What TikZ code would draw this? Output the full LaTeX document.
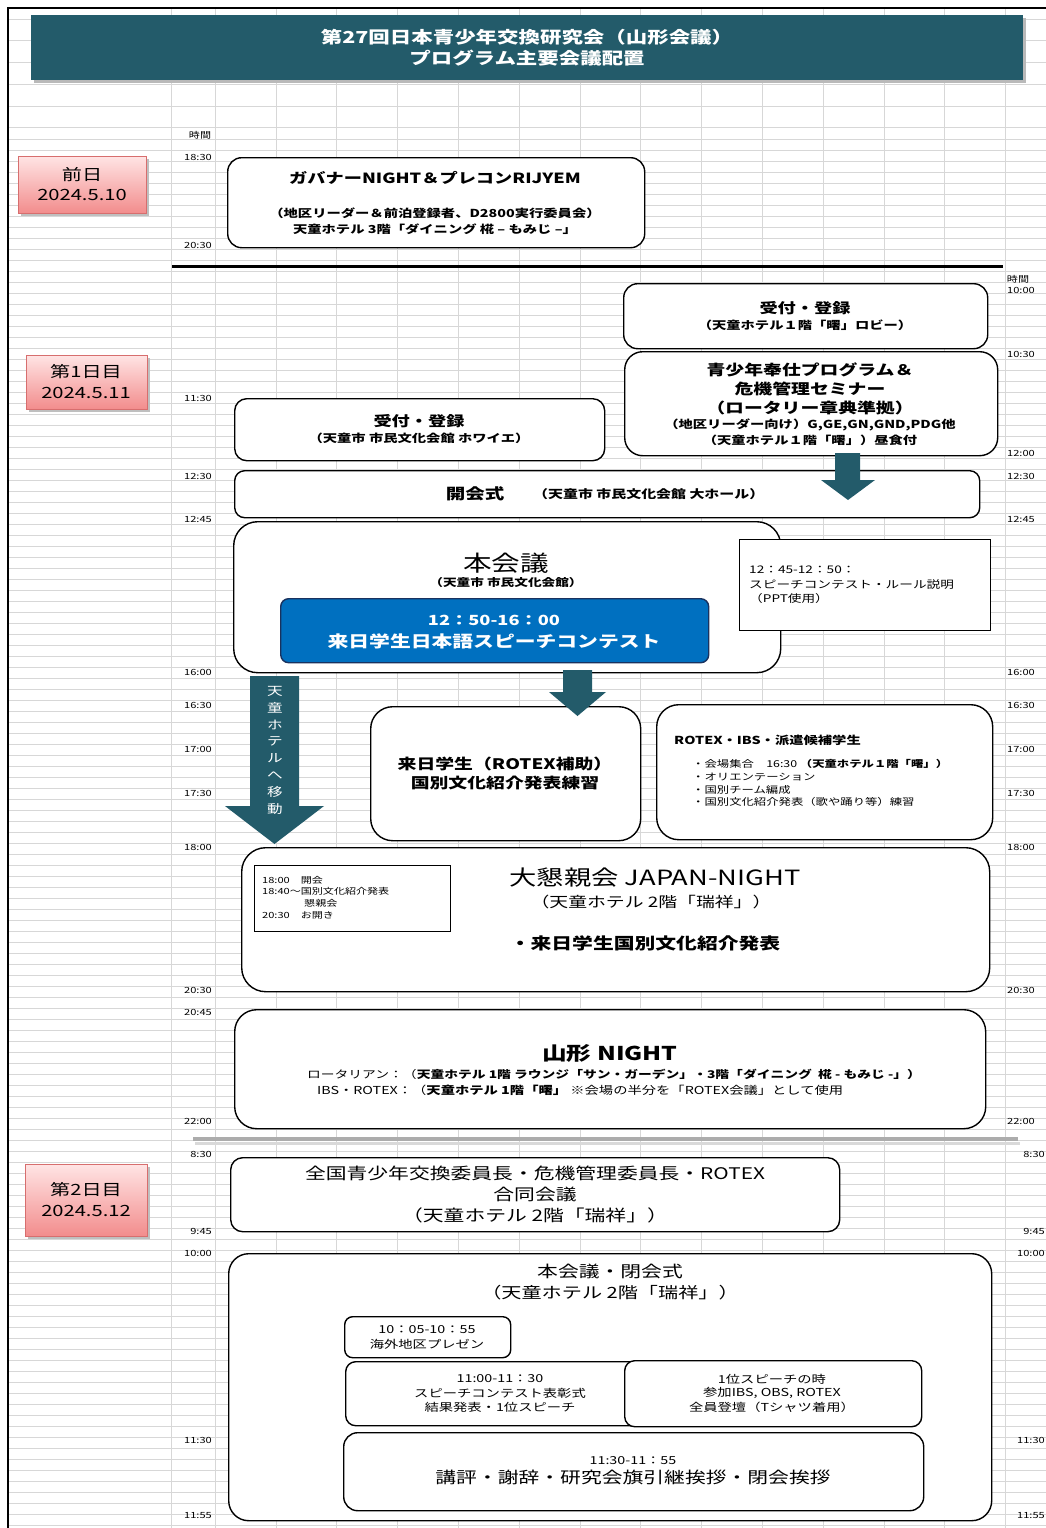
\documentclass[tikz,border=0pt]{standalone}
\usepackage{fontspec}
\setmainfont{Noto Sans CJK JP}[FakeStretch=1.3]
\newfontfamily\nsf{Noto Sans CJK JP}
\definecolor{tealc}{RGB}{35,91,106}
\definecolor{cblue}{RGB}{0,112,192}
\definecolor{cbluedark}{RGB}{25,50,95}
\definecolor{pinkt}{RGB}{255,228,228}
\definecolor{pinkb}{RGB}{242,140,140}
\definecolor{pinkd}{RGB}{215,110,110}
\definecolor{gridc}{RGB}{215,215,215}
\newcommand\fs[1]{\fontsize{#1}{#1}\selectfont}
\begin{document}
\begin{tikzpicture}[x=1pt,y=-1pt,
  box/.style={draw=black, line width=1.4pt, fill=white, inner sep=0pt, anchor=north west},
  daybox/.style={draw=pinkd, line width=0.8pt, top color=pinkt, bottom color=pinkb, inner sep=0pt, anchor=north west},
  t/.style={inner sep=0pt, text=black},
  tl/.style={inner sep=0pt, font=\fs{8.5}},
  gridl/.style={draw=gridc, line width=0.6pt},
  blockarrow/.style={fill=tealc, draw=none}]
\useasboundingbox (0,0) rectangle (1046,1528);
\fill[white] (0,0) rectangle (1046,1528);
% grid
\foreach \y in {19,40.7,62.4,84.1,105.8,127.5} \draw[gridl] (8,\y) -- (1046,\y);
\foreach \y in {139,150,...,1528} \draw[gridl] (8,\y) -- (1046,\y);
\foreach \x in {171,215,275.8,336.6,397.4,458.2,519,579.8,640.6,701.4,762.2,823,883.8,944.6,1005.4} \draw[gridl] (\x,8) -- (\x,1528);
% borders
\draw[black, line width=2pt] (8,1528) -- (8,8) -- (1046,8);
% title banner
\fill[gray!55] (34,18) rectangle (1026,83);
\node[fill=tealc, inner sep=0pt, anchor=north west, minimum width=992pt, minimum height=65pt] (banner) at (31,15) {};
\node[t, text=white, font=\fs{16.5}\bfseries] (title1) at (527,37) {第27回日本青少年交換研究会（山形会議）};
\node[t, text=white, font=\fs{16.5}\bfseries] (title2) at (527,58) {プログラム主要会議配置};
% time headers
\node[tl] (jikan1) at (200,135) {時間};
\node[tl] (jikan2) at (1018,279) {時間};
\foreach \y/\tm [count=\i] in {157/18:30, 245/20:30, 398/11:30, 476/12:30, 519/12:45, 672/16:00, 705/16:30, 749/17:00, 793/17:30, 847/18:00, 990/20:30, 1012/20:45, 1121/22:00, 1154/8:30, 1231/9:45, 1253/10:00, 1440/11:30, 1516/11:55}
  \node[tl, anchor=east] (lt\i) at (212,\y) {\tm};
\foreach \y/\tm [count=\i] in {290/10:00, 354/10:30, 453/12:00, 476/12:30, 519/12:45, 672/16:00, 705/16:30, 749/17:00, 793/17:30, 847/18:00, 990/20:30, 1121/22:00}
  \node[tl, anchor=west] (rt\i) at (1007,\y) {\tm};
\foreach \y/\tm [count=\i] in {1154/8:30, 1231/9:45, 1253/10:00, 1440/11:30, 1516/11:55}
  \node[tl, anchor=east] (rs\i) at (1045,\y) {\tm};
% day boxes
\fill[gray!50] (21,159) rectangle (149,216);
\node[daybox, minimum width=128pt, minimum height=57pt] (day0) at (18,156) {};
\node[t, font=\fs{15.5}] (day0a) at (82,175) {前日};
\node[t, font=\fs{15.5}] (day0b) at (82,195) {2024.5.10};
\fill[gray!50] (29,358) rectangle (150,412);
\node[daybox, minimum width=121pt, minimum height=54pt] (day1) at (26,355) {};
\node[t, font=\fs{15.5}] (day1a) at (86,372) {第1日目};
\node[t, font=\fs{15.5}] (day1b) at (86,393) {2024.5.11};
\fill[gray!50] (28,1167) rectangle (150,1239);
\node[daybox, minimum width=122pt, minimum height=72pt] (day2) at (25,1164) {};
\node[t, font=\fs{15.5}] (day2a) at (86,1190) {第2日目};
\node[t, font=\fs{15.5}] (day2b) at (86,1211) {2024.5.12};
% separators
\draw[black, line width=3pt] (172,266) -- (1003,266);
\draw[gray!30, line width=3pt] (195,1143) -- (1020,1143);
\draw[gray!65, line width=4.5pt] (193,1139) -- (1018,1139);
% governor night
\node[box, rounded corners=14pt, minimum width=417pt, minimum height=90pt] (gov) at (227,157) {};
\node[t, font=\fs{14}\bfseries] (gov1) at (435,178) {ガバナーNIGHT＆プレコンRIJYEM};
\node[t, font=\fs{11}\bfseries] (gov2) at (435,213) {（地区リーダー＆前泊登録者、D2800実行委員会）};
\node[t, font=\fs{11}\bfseries] (gov3) at (435,229) {天童ホテル 3階「ダイニング 椛 – もみじ –」};
% registration hotel
\node[box, rounded corners=14pt, minimum width=364pt, minimum height=65pt] (reg1) at (623,283) {};
\node[t, font=\fs{14}\bfseries] (reg1a) at (805,308) {受付・登録};
\node[t, font=\fs{11}\bfseries] (reg1b) at (805,325) {（天童ホテル１階「曙」ロビー）};
% seminar
\node[box, rounded corners=18pt, minimum width=373pt, minimum height=104pt] (sem) at (624,351) {};
\node[t, font=\fs{14.5}\bfseries] (sem1) at (810,370) {青少年奉仕プログラム＆};
\node[t, font=\fs{14.5}\bfseries] (sem2) at (810,389) {危機管理セミナー};
\node[t, font=\fs{14.5}\bfseries] (sem3) at (810,408) {（ロータリー章典準拠）};
\node[t, font=\fs{11}\bfseries] (sem4) at (810,425) {（地区リーダー向け）G,GE,GN,GND,PDG他};
\node[t, font=\fs{11}\bfseries] (sem5) at (810,440) {（天童ホテル１階「曙」）昼食付};
% registration civic hall
\node[box, rounded corners=12pt, minimum width=370pt, minimum height=62pt] (reg2) at (234,398) {};
\node[t, font=\fs{14}\bfseries] (reg2a) at (419,421) {受付・登録};
\node[t, font=\fs{11}\bfseries] (reg2b) at (419,438) {（天童市 市民文化会館 ホワイエ）};
% opening
\node[box, rounded corners=10pt, minimum width=745pt, minimum height=47pt] (open) at (234,470) {};
\node[t, font=\fs{15}\bfseries] (open1) at (475,494) {開会式};
\node[t, font=\fs{11.5}\bfseries, anchor=west] (open2) at (533,494) {（天童市 市民文化会館 大ホール）};
\fill[blockarrow] (835,453) -- (860,453) -- (860,480) -- (875,480) -- (848,500) -- (821,480) -- (835,480) -- cycle;
% main meeting
\node[box, rounded corners=24pt, minimum width=547pt, minimum height=151pt] (main) at (233,521) {};
\node[t, font=\fs{22}] (main1) at (506,563) {本会議};
\node[t, font=\fs{10.5}\bfseries] (main2) at (506,583) {（天童市 市民文化会館）};
\node[box, draw=cbluedark, fill=cblue, rounded corners=8pt, minimum width=428pt, minimum height=64pt] (contest) at (280,598) {};
\node[t, text=white, font=\fs{14}\bfseries] (contest1) at (494,620) {12：50-16：00};
\node[t, text=white, font=\fs{16}\bfseries] (contest2) at (494,641) {来日学生日本語スピーチコンテスト};
\node[box, line width=1.2pt, minimum width=251pt, minimum height=91pt] (note) at (739,539) {};
\node[t, font=\fs{10.5}, anchor=west] (note1) at (749,570) {12：45-12：50：};
\node[t, font=\fs{10.5}, anchor=west] (note2) at (749,585) {スピーチコンテスト・ルール説明};
\node[t, font=\fs{10.5}, anchor=west] (note3) at (749,599) {（PPT使用）};
% move arrow
\fill[blockarrow] (250,676) -- (299,676) -- (299,806) -- (324,806) -- (274.5,844) -- (225,806) -- (250,806) -- cycle;
\foreach \c [count=\i] in {天,童,ホ,テ,ル,へ,移,動}
  \node[t, text=white, font=\fs{12}] (move\i) at (275,{691+(\i-1)*16.9}) {\c};
% students
\node[box, rounded corners=22pt, minimum width=270pt, minimum height=134pt] (stud) at (370,706) {};
\node[t, font=\fs{14.5}\bfseries] (stud1) at (505,764) {来日学生（ROTEX補助）};
\node[t, font=\fs{14.5}\bfseries] (stud2) at (505,783) {国別文化紹介発表練習};
\fill[blockarrow] (563,670) -- (592,670) -- (592,692) -- (606,692) -- (577.5,716) -- (549,692) -- (563,692) -- cycle;
% rotex
\node[box, rounded corners=22pt, minimum width=336pt, minimum height=135pt] (rotex) at (656,704) {};
\node[t, font=\fs{11}\bfseries, anchor=west] (rotex0) at (674,740) {ROTEX・IBS・派遣候補学生};
\node[t, font=\fs{9.5}, anchor=west] (rotex1) at (692,764) {・会場集合　16:30 \textbf{（天童ホテル１階「曙」）}};
\node[t, font=\fs{9.5}, anchor=west] (rotex2) at (692,777) {・オリエンテーション};
\node[t, font=\fs{9.5}, anchor=west] (rotex3) at (692,790) {・国別チーム編成};
\node[t, font=\fs{9.5}, anchor=west] (rotex4) at (692,802) {・国別文化紹介発表（歌や踊り等）練習};
% japan night
\node[box, rounded corners=24pt, minimum width=748pt, minimum height=144pt] (party) at (241,847) {};
\node[box, line width=1.2pt, minimum width=196pt, minimum height=66pt] (pnote) at (254,865) {};
\node[t, font=\fs{8.5}, anchor=west] (pn1) at (262,880) {18:00　開会};
\node[t, font=\fs{8.5}, anchor=west] (pn2) at (262,891) {18:40～国別文化紹介発表};
\node[t, font=\fs{8.5}, anchor=west] (pn3) at (304,903) {懇親会};
\node[t, font=\fs{8.5}, anchor=west] (pn4) at (262,915) {20:30　お開き};
\node[t, font=\fs{21}] (party1) at (655,878) {大懇親会 JAPAN-NIGHT};
\node[t, font=\fs{14.5}] (party2) at (651,902) {（天童ホテル 2階「瑞祥」）};
\node[t, font=\fs{16}\bfseries] (party3) at (645,943) {・来日学生国別文化紹介発表};
% yamagata night
\node[box, rounded corners=22pt, minimum width=751pt, minimum height=119pt] (ynight) at (234,1009) {};
\node[t, font=\fs{19}\bfseries] (yn1) at (610,1053) {山形 NIGHT};
\node[t, font=\fs{10.6}] (yn2) at (614,1074) {ロータリアン：（\textbf{天童ホテル 1階 ラウンジ「サン・ガーデン」・3階「ダイニング\ \ 椛 - もみじ -」）}};
\node[t, font=\fs{11}, anchor=west] (yn3) at (317,1090) {IBS・ROTEX：（\textbf{天童ホテル 1階「曙」} ※会場の半分を「ROTEX会議」として使用};
% day 2 joint meeting
\node[box, rounded corners=12pt, minimum width=609pt, minimum height=74pt] (joint) at (230,1157) {};
\node[t, font=\fs{16}] (joint1) at (535,1173) {全国青少年交換委員長・危機管理委員長・ROTEX};
\node[t, font=\fs{16}] (joint2) at (535,1194) {合同会議};
\node[t, font=\fs{16}] (joint3) at (535,1215) {（天童ホテル 2階「瑞祥」）};
% final
\node[box, rounded corners=20pt, minimum width=763pt, minimum height=267pt] (final) at (228,1253) {};
\node[t, font=\fs{16}] (final1) at (610,1271) {本会議・閉会式};
\node[t, font=\fs{15.5}] (final2) at (610,1293) {（天童ホテル 2階「瑞祥」）};
\node[box, rounded corners=8pt, minimum width=166pt, minimum height=41pt] (pres) at (344,1316) {};
\node[t, font=\fs{11}] (pres1) at (427,1330) {10：05-10：55};
\node[t, font=\fs{11}] (pres2) at (427,1344) {海外地区プレゼン};
\node[box, rounded corners=10pt, minimum width=330pt, minimum height=64pt] (award) at (345,1361) {};
\node[t, font=\fs{11}] (award1) at (500,1379) {11:00-11：30};
\node[t, font=\fs{11}] (award2) at (500,1393) {スピーチコンテスト表彰式};
\node[t, font=\fs{11}] (award3) at (500,1407) {結果発表・1位スピーチ};
\node[box, rounded corners=10pt, minimum width=297pt, minimum height=66pt] (first) at (624,1360) {};
\node[t, font=\fs{11}] (first1) at (772,1379) {1位スピーチの時};
\node[t, font=\fs{11}] (first2) at (772,1393) {参加IBS, OBS, ROTEX};
\node[t, font=\fs{11}] (first3) at (772,1407) {全員登壇（Tシャツ着用）};
\node[box, rounded corners=14pt, minimum width=580pt, minimum height=78pt] (closing) at (343,1432) {};
\node[t, font=\fs{11}] (closing1) at (633,1461) {11:30-11：55};
\node[t, font=\fs{16}] (closing2) at (633,1477) {講評・謝辞・研究会旗引継挨拶・閉会挨拶};
\end{tikzpicture}
\end{document}
